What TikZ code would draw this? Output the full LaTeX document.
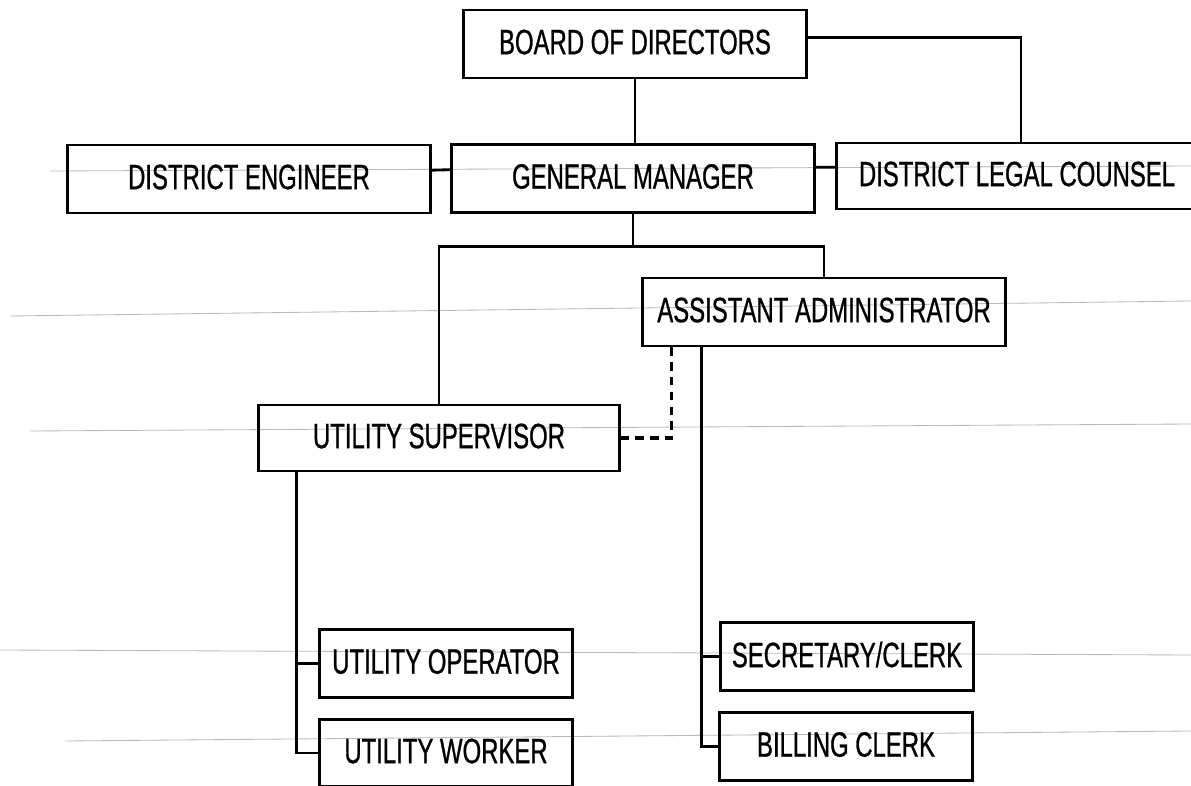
\documentclass[tikz,border=0pt]{standalone}
\usepackage{fontspec}
\setmainfont{Liberation Sans}[FakeStretch=0.68, FakeBold=0.8]
\usetikzlibrary{calc}
\tikzset{
  orgbox/.style={draw, line width=2.1pt, rectangle, inner sep=0pt, text depth=3pt,
    font=\fontsize{25}{30}\selectfont},
  link/.style={line width=2pt},
  dotlink/.style={line width=2.4pt, dash pattern=on 6pt off 4.5pt},
  ruled/.style={gray!55, line width=0.6pt},
}
\begin{document}
\begin{tikzpicture}[x=0.025cm,y=-0.025cm]
\useasboundingbox (0,0) rectangle (1191,786);
\clip (0,0) rectangle (1191,786);
% faint ruled lines of the scanned page
\draw[ruled] (50,171) -- (1191,166);
\draw[ruled] (10,316) -- (1191,301);
\draw[ruled] (30,431) -- (1191,424);
\draw[ruled] (0,650) -- (1191,655);
\draw[ruled] (65,741) -- (1191,731);
% boxes
\node[orgbox, minimum width=8.55cm, minimum height=1.7cm] (board) at (635,44) {BOARD OF DIRECTORS};
\node[orgbox, minimum width=9.05cm, minimum height=1.68cm] (gm) at (633,178.5) {GENERAL MANAGER};
\node[orgbox, minimum width=9.05cm, minimum height=1.7cm] (de) at (249,179) {DISTRICT ENGINEER};
\node[orgbox, minimum width=9.0cm, minimum height=1.65cm] (dlc) at (1017,176) {DISTRICT LEGAL COUNSEL};
\node[orgbox, minimum width=9.05cm, minimum height=1.7cm] (aa) at (824,312) {ASSISTANT ADMINISTRATOR};
\node[orgbox, minimum width=9.0cm, minimum height=1.65cm] (us) at (439,438) {UTILITY SUPERVISOR};
\node[orgbox, minimum width=6.3cm, minimum height=1.68cm] (uo) at (446,663.5) {UTILITY OPERATOR};
\node[orgbox, minimum width=6.3cm, minimum height=1.68cm] (uw) at (446,753) {UTILITY WORKER};
\node[orgbox, minimum width=6.3cm, minimum height=1.68cm] (sc) at (847,656.5) {SECRETARY/CLERK};
\node[orgbox, minimum width=6.3cm, minimum height=1.68cm] (bc) at (846,746.5) {BILLING CLERK};
% junctions
\coordinate (gmj) at ($(gm.south)+(0,33)$);
\coordinate (usstem) at ($(us.south west)+(39,0)$);
\coordinate (aastem) at ($(aa.south west)+(60,0)$);
\coordinate (aadash) at ($(aa.south west)+(30,0)$);
% connectors
\draw[link] ([yshift=0.17cm]board.east) -| ($(dlc.north)+(4,0)$);
\draw[link] (board.south) -- (board.south |- gm.north);
\draw[link] ([yshift=0.22cm]de.east) -- ([yshift=0.22cm]gm.west);
\draw[link] ([yshift=0.28cm]gm.east) -- ([yshift=0.22cm]dlc.west);
\draw[link] (gm.south) -- (gmj);
\draw[link] (us.north) |- (gmj) -| (aa.north);
\draw[dotlink] (aadash) |- (us.east);
\draw[link] (usstem) |- (uw.west);
\draw[link] (uo.west) -- (uo.west -| usstem);
\draw[link] (aastem) |- (bc.west);
\draw[link] (sc.west) -- (sc.west -| aastem);
\end{tikzpicture}
\end{document}
